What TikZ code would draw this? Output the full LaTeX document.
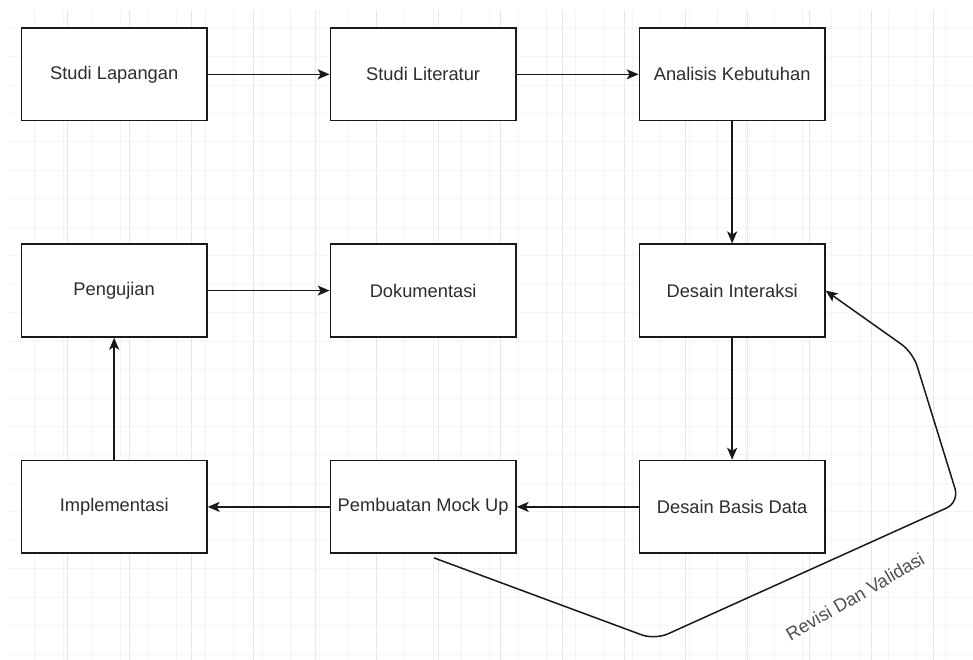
\documentclass[tikz,border=0pt]{standalone}
\usepackage{fontspec}
\setmainfont{Liberation Sans}
\usetikzlibrary{arrows.meta,positioning,calc}
\definecolor{gridMinor}{RGB}{245,245,245}
\definecolor{gridMajor}{RGB}{230,230,230}
\definecolor{txtGray}{RGB}{45,45,45}
\definecolor{lblGray}{RGB}{80,80,80}
\tikzset{
	fbox/.style={
		draw=black!90,
		fill=white,
		line width=1.6pt,
		minimum width=185.4pt,
		minimum height=92.7pt,
		inner sep=0pt,
		text=txtGray,
		font=\fontsize{18.3}{22}\selectfont
	},
	farr/.style={-{Stealth[length=12pt,width=10pt,inset=3pt]}, line width=1.5pt, black!90},
	flbl/.style={text=lblGray, font=\fontsize{18.3}{22}\selectfont, inner sep=0pt}
}

\begin{document}
\begin{tikzpicture}[x=15.45pt, y=-15.45pt]
		\useasboundingbox (-0.39,-1.81) rectangle (62.59,40.91);
		\fill[white] (-0.39,-1.81) rectangle (62.59,40.91);
		\draw[gridMinor, line width=0.6pt] (0.13,-1.17) grid (62.59,40.91);
		\draw[gridMajor, line width=0.8pt, step=4] (0.13,-1.17) grid (62.59,40.91);

		\node[fbox] (lap) at (7,3) {Studi Lapangan};
		\node[fbox] (lit) at (27,3) {Studi Literatur};
		\node[fbox] (keb) at (47,3) {Analisis Kebutuhan};
		\node[fbox] (uji) at (7,17) {Pengujian};
		\node[fbox] (dok) at (27,17) {Dokumentasi};
		\node[fbox] (inter) at (47,17) {Desain Interaksi};
		\node[fbox] (impl) at (7,31) {Implementasi};
		\node[fbox] (mock) at (27,31) {Pembuatan Mock Up};
		\node[fbox] (basis) at (47,31) {Desain Basis Data};

		\draw[farr] (lap) -- (lit);
		\draw[farr] (lit) -- (keb);
		\draw[farr] (keb) -- (inter);
		\draw[farr] (inter) -- (basis);
		\draw[farr] (basis) -- (mock);
		\draw[farr] (mock) -- (impl);
		\draw[farr] (impl) -- (uji);
		\draw[farr] (uji) -- (dok);

		\coordinate (rv0) at (27.7,34.3);
		\coordinate (rv1) at (42.0,39.6);
		\coordinate (rv2) at (61.7,30.7);
		\coordinate (rv3) at (58.7,21.0);
		\draw[farr, rounded corners=14pt] (rv0) -- (rv1) -- (rv2) -- (rv3) -- (inter.east);
		\node[flbl, rotate=30] (revisi) at (54.95,36.8) {Revisi Dan Validasi};
	\end{tikzpicture}
\end{document}
